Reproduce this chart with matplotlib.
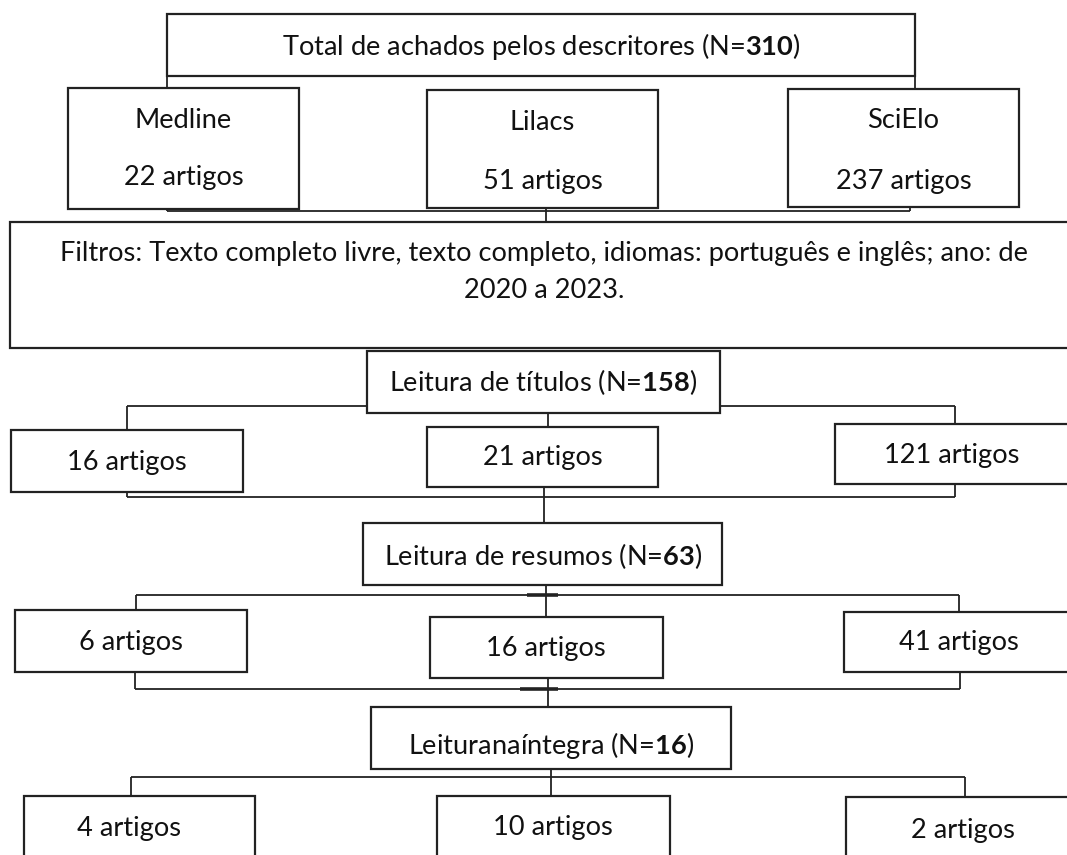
import matplotlib
matplotlib.use("Agg")
import matplotlib.pyplot as plt
from matplotlib.patches import Rectangle

# ---------------- data ----------------
databases = ["Medline", "Lilacs", "SciElo"]
total_found = 310
found_per_db = [22, 51, 237]
filters_lines = ["Filtros: Texto completo livre, texto completo, idiomas: português e inglês; ano: de",
                 "2020 a 2023."]
titles_total = 158
titles_per_db = [16, 21, 121]
abstracts_total = 63
abstracts_per_db = [6, 16, 41]
fulltext_total = 16
fulltext_per_db = [4, 10, 2]

# ---------------- style ----------------
FONT = "Lato"
plt.rcParams['font.family'] = [FONT, 'DejaVu Sans']
plt.rcParams['mathtext.fontset'] = 'custom'
plt.rcParams['mathtext.rm'] = FONT
plt.rcParams['mathtext.bf'] = FONT + ':bold'
FS = 19.6
LW = 1.3
EDGE = "#222222"

W, H = 1067, 855
fig = plt.figure(figsize=(W / 100, H / 100), dpi=100)
ax = fig.add_axes([0, 0, 1, 1])
ax.set_xlim(0, W)
ax.set_ylim(H, 0)
ax.axis("off")


def box(x0, y0, x1, y1):
    ax.add_patch(Rectangle((x0, y0), x1 - x0, y1 - y0, facecolor="white",
                           edgecolor=EDGE, lw=LW + 0.3, zorder=3))


def line(xs, ys, lw=LW):
    ax.plot(xs, ys, color=EDGE, lw=lw, zorder=2, solid_capstyle="butt")


def label(x, y, s):
    ax.text(x, y, s, ha="center", va="center", fontsize=FS, color="#111111", zorder=4)


def stage(n_label, n):
    return n_label + r" (N=$\mathbf{" + str(n) + r"}$)"

# ---------- layout ----------
# top box
box(167, 14, 915, 76)
label(541, 46, stage("Total de achados pelos descritores", total_found))
line([167, 167], [76, 88])
line([915, 915], [76, 89])

db_boxes = [(68, 88, 299, 209), (427, 90, 658, 208), (788, 89, 1019, 207)]
db_name_y = [120, 122, 120]
db_count_y = [177, 182, 182]
for (x0, y0, x1, y1), name, cnt, ny, cy in zip(db_boxes, databases, found_per_db, db_name_y, db_count_y):
    box(x0, y0, x1, y1)
    cx = (x0 + x1) / 2
    label(cx, ny, name)
    label(cx, cy, f"{cnt} artigos")
line([167, 910], [211, 211])
line([167, 167], [207, 211])
line([910, 910], [207, 211])
line([546, 546], [200, 222])

# filters box
box(10, 222, 1080, 348)
label(544, 253, filters_lines[0])
label(544, 290, filters_lines[1])

# titles
line([127, 955], [406, 406])
line([127, 127], [406, 430])
line([955, 955], [406, 424])
line([548, 548], [413, 427])
box(367, 351, 720, 413)
label(543, 382, stage("Leitura de títulos", titles_total))

row2 = [(11, 430, 243, 492), (427, 427, 658, 487), (835, 424, 1080, 484)]
row2_txt = [(127, 462), (543, 457), (952, 455)]
for b, (tx, ty), cnt in zip(row2, row2_txt, titles_per_db):
    box(*b)
    label(tx, ty, f"{cnt} artigos")
line([127, 955], [497, 497])
line([127, 127], [492, 497])
line([955, 955], [484, 497])
line([544, 544], [487, 523])

# abstracts
box(363, 523, 722, 585)
label(543, 556, stage("Leitura de resumos", abstracts_total))
line([136, 959], [595, 595])
line([527, 558], [595, 595], lw=2.6)
line([136, 136], [595, 610])
line([959, 959], [595, 612])
line([546, 546], [585, 617])

row3 = [(15, 610, 247, 672), (430, 617, 663, 678), (844, 612, 1080, 672)]
row3_txt = [(131, 642), (546, 648), (959, 642)]
for b, (tx, ty), cnt in zip(row3, row3_txt, abstracts_per_db):
    box(*b)
    label(tx, ty, f"{cnt} artigos")
line([135, 960], [689, 689])
line([520, 558], [689, 689], lw=2.6)
line([135, 135], [672, 689])
line([960, 960], [672, 689])
line([548, 548], [678, 707])

# full text
box(371, 707, 731, 769)
label(551, 745, stage("Leituranaíntegra", fulltext_total))
line([131, 965], [777, 777])
line([131, 131], [777, 796])
line([965, 965], [777, 797])
line([551, 551], [769, 796])

row4 = [(24, 796, 255, 880), (437, 796, 670, 880), (846, 797, 1080, 880)]
row4_txt = [(129, 828), (553, 827), (963, 830)]
for b, (tx, ty), cnt in zip(row4, row4_txt, fulltext_per_db):
    box(*b)
    label(tx, ty, f"{cnt} artigos")

fig.savefig("out.png", dpi=100, facecolor="white")
